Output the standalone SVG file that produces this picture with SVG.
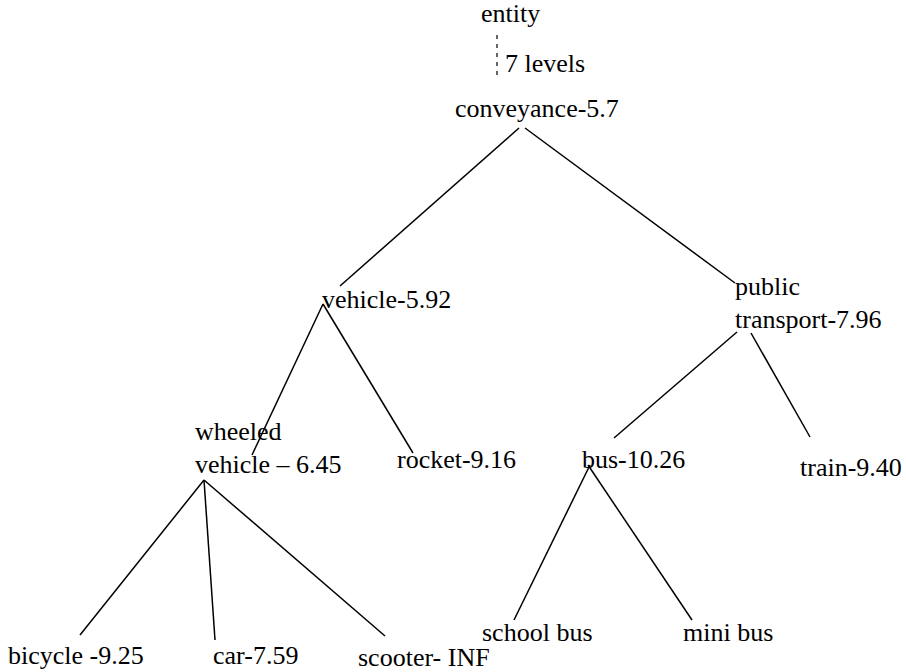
<svg xmlns="http://www.w3.org/2000/svg" width="906" height="672" viewBox="0 0 906 672">
<style>
.e{stroke:#000;stroke-width:1.5;fill:none}
.d{stroke:#000;stroke-width:1.2;stroke-dasharray:4,5;fill:none}
</style>
<rect width="906" height="672" fill="#fff"/>
<g id="connectors">
<line class="d" x1="497" y1="35" x2="497" y2="80"/>
<line class="e" x1="519" y1="128" x2="340" y2="286"/>
<line class="e" x1="525" y1="128" x2="735" y2="283"/>
<line class="e" x1="323" y1="304" x2="252" y2="455"/>
<line class="e" x1="323" y1="304" x2="413" y2="453"/>
<line class="e" x1="204" y1="480" x2="80" y2="635"/>
<line class="e" x1="204" y1="480" x2="215" y2="640"/>
<line class="e" x1="204" y1="480" x2="385" y2="636"/>
<line class="e" x1="737" y1="332" x2="614" y2="438"/>
<line class="e" x1="751" y1="333" x2="810" y2="437"/>
<line class="e" x1="590" y1="465" x2="514" y2="620"/>
<line class="e" x1="588" y1="465" x2="692" y2="620"/>
</g>
<g font-family="Liberation Serif, Times New Roman, serif" font-size="26" fill="#000">
<g id="entity"><text x="481" y="22">entity</text></g>
<g id="levels"><text x="505" y="72">7 levels</text></g>
<g id="conveyance"><text x="455" y="117">conveyance-5.7</text></g>
<g id="vehicle"><text x="322" y="308">vehicle-5.92</text></g>
<g id="public-transport"><text x="735" y="295">public</text><text x="735" y="328">transport-7.96</text></g>
<g id="wheeled-vehicle"><text x="195" y="440">wheeled</text><text x="195" y="473">vehicle – 6.45</text></g>
<g id="rocket"><text x="397" y="468">rocket-9.16</text></g>
<g id="bus"><text x="582" y="468">bus-10.26</text></g>
<g id="train"><text x="800" y="476">train-9.40</text></g>
<g id="bicycle"><text x="8" y="664">bicycle -9.25</text></g>
<g id="car"><text x="213" y="664">car-7.59</text></g>
<g id="scooter"><text x="358" y="666">scooter- INF</text></g>
<g id="school-bus"><text x="482" y="641">school bus</text></g>
<g id="mini-bus"><text x="683" y="641">mini bus</text></g>
</g>
</svg>
